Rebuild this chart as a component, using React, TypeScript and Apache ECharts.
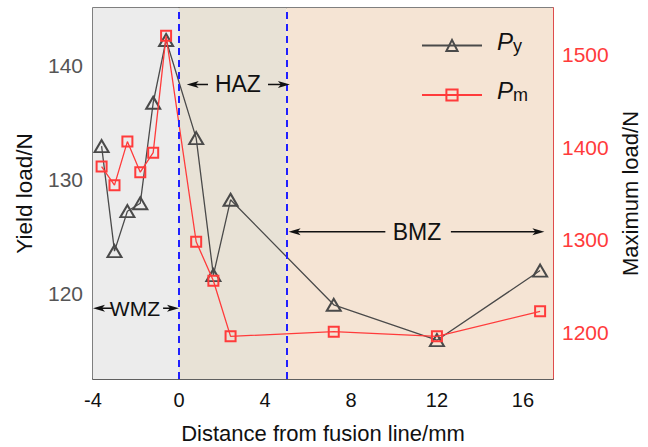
import React, { useEffect, useRef } from 'react';
import * as echarts from 'echarts';

const distance = [-3.6, -3.0, -2.4, -1.8, -1.2, -0.6, 0.8, 1.6, 2.4, 7.2, 12, 16.8];
const yieldLoad = [132.9, 123.7, 127.2, 127.9, 136.7, 142.2, 133.6, 121.6, 128.2, 119.0, 115.9, 122.0];
const maxLoad = [1379, 1359, 1406, 1373, 1394, 1520, 1298, 1256, 1196, 1201, 1196, 1223];

const zoneNames = ['WMZ', 'HAZ', 'BMZ'];
const zoneStart = [-4, 0, 5];
const zoneEnd = [0, 5, 17.4];
const zoneColors = ['#ececec', '#e8e2d6', '#f5e4d4'];
const boundaries = [0, 5];

// annotation anchors, in data units (x distance, left-axis value)
const zoneLabelX = [-2.05, 2.74, 11.07];
const zoneLabelY = [118.7, 138.3, 125.4];
const zoneFontSize = [21, 23, 23];
const arrowLeft = [[-3.12, -4], [1.35, 0.36], [9.6, 5.1]]; // [tail, head]
const arrowRight = [[-0.74, 0], [4.14, 5.16], [12.65, 17.0]];

const FONT = '"Liberation Sans", Arial, Helvetica, sans-serif';
const RED = '#ff3b3b';
const GRAY = '#4a4a4a';

export default function App() {
  const ref = useRef<HTMLDivElement>(null);
  useEffect(() => {
    document.body.style.margin = '0';
    const chart = echarts.init(ref.current!, null, { renderer: 'svg' });
    const option: any = {
      animation: false,
      textStyle: { fontFamily: FONT },
      grid: {
        left: 93, right: 95, top: 8, bottom: 68,
        show: true, borderColor: '#555', borderWidth: 1.5, backgroundColor: 'transparent',
        outerBoundsMode: 'none',
      },
      legend: {
        orient: 'vertical',
        left: 416,
        top: 24,
        itemWidth: 60,
        itemHeight: 14,
        itemGap: 24,
        data: ['Py', 'Pm'],
        formatter: (n: string) => `{p|P}{s|${n.slice(1)}}`,
        textStyle: {
          rich: {
            p: { fontSize: 24, fontStyle: 'italic', color: '#111', padding: [0, 0, 9, 10], fontFamily: FONT },
            s: { fontSize: 18, color: '#111', fontFamily: FONT },
          },
        },
      },
      xAxis: {
        type: 'value',
        min: -4,
        max: 17.4,
        interval: 4,
        axisLine: { show: true, lineStyle: { color: '#555', width: 1.5 } },
        axisTick: { show: false },
        splitLine: { show: false },
        axisLabel: {
          formatter: (v: number) => (Math.abs(v % 4) < 1e-6 ? String(v) : ''),
          fontSize: 20, color: '#111', margin: 11, fontFamily: FONT,
        },
        name: 'Distance from fusion line/mm',
        nameLocation: 'middle',
        nameGap: 43,
        nameTextStyle: { fontSize: 22, color: '#111', fontFamily: FONT },
      },
      yAxis: [
        {
          type: 'value',
          position: 'left',
          min: 112.5,
          max: 145,
          interval: 2.5,
          axisLine: { show: true, lineStyle: { color: '#555', width: 1.5 } },
          axisTick: { show: false },
          splitLine: { show: false },
          axisLabel: {
            formatter: (v: number) => (Math.abs(v % 10) < 1e-6 ? String(v) : ''),
            fontSize: 21, color: '#555', margin: 10, fontFamily: FONT,
          },
          name: 'Yield load/N',
          nameLocation: 'middle',
          nameRotate: 90,
          nameGap: 57,
          nameTextStyle: { fontSize: 22.5, color: '#111', fontFamily: FONT },
        },
        {
          type: 'value',
          position: 'right',
          min: 1150,
          max: 1550,
          interval: 50,
          axisLine: { show: true, lineStyle: { color: RED, width: 1.5 } },
          axisTick: { show: false },
          splitLine: { show: false },
          axisLabel: {
            formatter: (v: number) => (Math.abs(v % 100) < 1e-6 ? String(v) : ''),
            fontSize: 21, color: RED, margin: 9, fontFamily: FONT,
          },
          name: 'Maximum load/N',
          nameLocation: 'middle',
          nameRotate: 90,
          nameGap: 63,
          nameTextStyle: { fontSize: 22, color: '#111', fontFamily: FONT },
        },
      ],
      series: [
        {
          name: 'zones',
          type: 'line',
          data: [],
          z: 1,
          silent: true,
          markArea: {
            silent: true,
            data: zoneNames.map((_, i) => [
              { xAxis: zoneStart[i], itemStyle: { color: zoneColors[i], opacity: 1 } },
              { xAxis: zoneEnd[i] },
            ]),
          },
          markLine: {
            silent: true,
            symbol: 'none',
            label: { show: false },
            lineStyle: { color: '#1f1fff', type: [7, 5], width: 2 },
            data: boundaries.map((b) => ({ xAxis: b })),
          },
        },
        {
          name: 'Py',
          type: 'line',
          yAxisIndex: 0,
          z: 3,
          data: distance.map((x, i) => [x, yieldLoad[i]]),
          symbol: 'triangle',
          symbolSize: [14, 12],
          showAllSymbol: true,
          lineStyle: { color: GRAY, width: 1.3 },
          itemStyle: { color: 'transparent', borderColor: GRAY, borderWidth: 2 },
        },
        {
          name: 'Pm',
          type: 'line',
          yAxisIndex: 1,
          z: 4,
          data: distance.map((x, i) => [x, maxLoad[i]]),
          symbol: 'rect',
          symbolSize: 10,
          showAllSymbol: true,
          lineStyle: { color: RED, width: 1.3 },
          itemStyle: { color: 'transparent', borderColor: RED, borderWidth: 2 },
        },
      ],
    };
    chart.setOption(option);

    const px = (x: number, y: number) =>
      chart.convertToPixel({ xAxisIndex: 0, yAxisIndex: 0 }, [x, y]) as number[];
    const arrow = (tail: number, head: number, y: number) => {
      const t = px(tail, y);
      const h = px(head, y);
      const dir = Math.sign(h[0] - t[0]);
      const len = 12;
      const hw = 3.5;
      return [
        {
          type: 'line',
          shape: { x1: t[0], y1: t[1], x2: h[0] - dir * 6, y2: h[1] },
          style: { stroke: '#111', lineWidth: 1.5 },
          z: 10,
        },
        {
          type: 'polygon',
          shape: {
            points: [
              [h[0], h[1]],
              [h[0] - dir * len, h[1] - hw],
              [h[0] - dir * (len - 3), h[1]],
              [h[0] - dir * len, h[1] + hw],
            ],
          },
          style: { fill: '#111' },
          z: 10,
        },
      ];
    };
    const graphics: any[] = [];
    zoneNames.forEach((name, i) => {
      const p = px(zoneLabelX[i], zoneLabelY[i]);
      graphics.push({
        type: 'text',
        x: p[0],
        y: p[1],
        z: 10,
        style: {
          text: name,
          fontSize: zoneFontSize[i],
          fontFamily: FONT,
          fill: '#111',
          textAlign: 'center',
          textVerticalAlign: 'middle',
        },
      });
      graphics.push(...arrow(arrowLeft[i][0], arrowLeft[i][1], zoneLabelY[i]));
      graphics.push(...arrow(arrowRight[i][0], arrowRight[i][1], zoneLabelY[i]));
    });
    chart.setOption({ graphic: graphics });

    return () => chart.dispose();
  }, []);
  return <div ref={ref} style={{ width: 648, height: 447, position: 'absolute', left: 0, top: 0 }} />;
}
